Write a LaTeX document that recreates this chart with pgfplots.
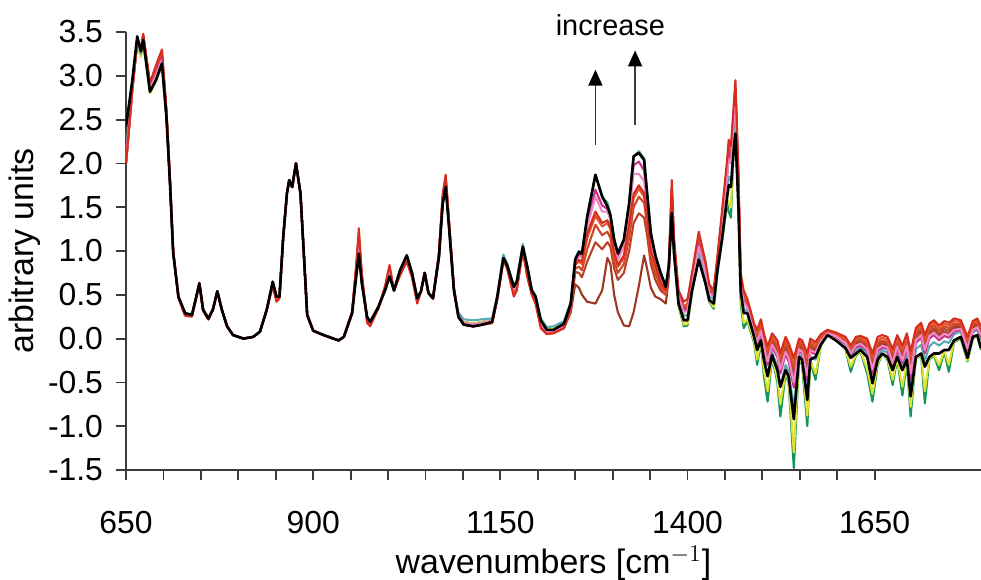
\documentclass[border=0pt]{standalone}
\usepackage{fontspec}
\setmainfont{Liberation Sans}
\usepackage{pgfplots}
\usepackage{pgfplotstable}
\pgfplotsset{compat=1.18}
\usetikzlibrary{arrows.meta}

\definecolor{axisgray}{RGB}{60,60,60}
\definecolor{cr}{RGB}{215,45,30}
\definecolor{co1}{RGB}{228,85,45}
\definecolor{co2}{RGB}{205,72,40}
\definecolor{co3}{RGB}{185,65,40}
\definecolor{cbr}{RGB}{160,55,35}
\definecolor{cpk}{RGB}{238,135,195}
\definecolor{cmg}{RGB}{200,50,140}
\definecolor{ccy}{RGB}{90,170,180}
\definecolor{cgr}{RGB}{20,150,90}
\definecolor{cye}{RGB}{225,225,50}

% x  black red orange1 orange2 orange3 brown pink magenta cyan green yellow
\pgfplotstableread{
x k r o1 o2 o3 br pk mg cy gr ye
650 2.42 2.00 2.00 2.00 2.00 2.00 2.04 2.04 2.08 2.10 2.10
658 2.92 2.80 2.80 2.80 2.80 2.80 2.82 2.82 2.85 2.86 2.86
665 3.45 3.40 3.40 3.40 3.40 3.40 3.42 3.42 3.38 3.35 3.35
670 3.28 3.32 3.30 3.30 3.30 3.30 3.28 3.28 3.25 3.22 3.22
673 3.41 3.48 3.46 3.46 3.45 3.45 3.44 3.44 3.42 3.40 3.40
682 2.82 2.92 2.90 2.90 2.88 2.88 2.86 2.88 2.82 2.80 2.80
690 2.95 3.12 3.08 3.06 3.04 3.02 3.00 3.02 2.96 2.94 2.94
698 3.14 3.30 3.27 3.25 3.22 3.20 3.18 3.22 3.15 3.12 3.12
704 2.53 2.62 2.60 2.58 2.56 2.56 2.56 2.58 2.54 2.53 2.53
709 1.73 1.78 1.76 1.76 1.75 1.75 1.75 1.76 1.73 1.73 1.73
713 0.98 1.00 1.00 1.00 1.00 1.00 0.99 0.99 0.98 0.98 0.98
720 0.48 0.47 0.47 0.47 0.47 0.47 0.48 0.48 0.48 0.48 0.48
729 0.29 0.26 0.27 0.27 0.27 0.27 0.28 0.28 0.29 0.27 0.27
738 0.27 0.25 0.26 0.26 0.26 0.26 0.27 0.27 0.28 0.26 0.26
742 0.41 0.40 0.40 0.40 0.40 0.40 0.41 0.41 0.41 0.41 0.41
748 0.63 0.64 0.63 0.63 0.63 0.63 0.63 0.63 0.63 0.63 0.63
753 0.33 0.32 0.32 0.32 0.32 0.32 0.33 0.33 0.33 0.33 0.33
760 0.23 0.22 0.22 0.22 0.22 0.22 0.23 0.23 0.23 0.23 0.23
766 0.33 0.33 0.33 0.33 0.33 0.33 0.33 0.33 0.33 0.33 0.33
772 0.54 0.54 0.54 0.54 0.54 0.54 0.54 0.54 0.54 0.54 0.54
778 0.33 0.33 0.33 0.33 0.33 0.33 0.33 0.33 0.33 0.33 0.33
785 0.14 0.14 0.14 0.14 0.14 0.14 0.14 0.14 0.14 0.14 0.14
793 0.04 0.04 0.04 0.04 0.04 0.04 0.04 0.04 0.04 0.04 0.04
807 0.00 0.00 0.00 0.00 0.00 0.00 0.00 0.00 0.00 0.00 0.00
820 0.02 0.02 0.02 0.02 0.02 0.02 0.02 0.02 0.02 0.02 0.02
829 0.08 0.08 0.08 0.08 0.08 0.08 0.08 0.08 0.08 0.08 0.08
838 0.33 0.33 0.33 0.33 0.33 0.33 0.33 0.33 0.33 0.33 0.33
846 0.65 0.60 0.62 0.62 0.62 0.62 0.63 0.63 0.65 0.65 0.65
851 0.48 0.42 0.44 0.44 0.44 0.44 0.46 0.46 0.48 0.48 0.48
855 0.48 0.46 0.47 0.47 0.47 0.47 0.47 0.47 0.48 0.48 0.48
860 1.16 1.16 1.16 1.16 1.16 1.16 1.16 1.16 1.16 1.16 1.16
865 1.66 1.66 1.66 1.66 1.66 1.66 1.66 1.66 1.66 1.66 1.66
868 1.81 1.81 1.81 1.81 1.81 1.81 1.81 1.81 1.81 1.81 1.81
872 1.73 1.73 1.73 1.73 1.73 1.73 1.73 1.73 1.73 1.73 1.73
877 2.00 2.00 2.00 2.00 2.00 2.00 2.00 2.00 2.00 2.00 2.00
883 1.66 1.66 1.66 1.66 1.66 1.66 1.66 1.66 1.66 1.66 1.66
887 1.05 1.05 1.05 1.05 1.05 1.05 1.05 1.05 1.05 1.05 1.05
892 0.27 0.27 0.27 0.27 0.27 0.27 0.27 0.27 0.27 0.27 0.27
900 0.09 0.09 0.09 0.09 0.09 0.09 0.09 0.09 0.09 0.09 0.09
914 0.04 0.04 0.04 0.04 0.04 0.04 0.04 0.04 0.04 0.04 0.04
927 0.00 0.00 0.00 0.00 0.00 0.00 0.00 0.00 0.00 0.00 0.00
934 -0.02 -0.02 -0.02 -0.02 -0.02 -0.02 -0.02 -0.02 -0.02 -0.02 -0.02
941 0.02 0.02 0.02 0.02 0.02 0.02 0.02 0.02 0.02 0.02 0.02
952 0.29 0.30 0.30 0.30 0.30 0.30 0.29 0.29 0.29 0.29 0.29
958 0.75 0.90 0.86 0.84 0.82 0.80 0.82 0.84 0.78 0.76 0.76
961 0.97 1.26 1.18 1.12 1.08 1.05 1.10 1.15 1.00 0.98 0.98
965 0.63 0.75 0.72 0.70 0.68 0.66 0.68 0.70 0.64 0.63 0.63
972 0.25 0.18 0.20 0.21 0.22 0.22 0.23 0.23 0.25 0.25 0.25
976 0.19 0.14 0.15 0.16 0.16 0.17 0.18 0.18 0.19 0.19 0.19
987 0.36 0.34 0.35 0.35 0.35 0.35 0.36 0.36 0.36 0.36 0.36
996 0.55 0.60 0.58 0.58 0.57 0.57 0.57 0.57 0.56 0.55 0.55
1002 0.71 0.84 0.80 0.78 0.77 0.76 0.78 0.78 0.72 0.71 0.71
1008 0.55 0.55 0.55 0.55 0.55 0.55 0.55 0.55 0.55 0.55 0.55
1016 0.78 0.72 0.74 0.75 0.75 0.76 0.76 0.76 0.78 0.78 0.78
1025 0.95 0.88 0.90 0.91 0.91 0.92 0.92 0.93 0.95 0.95 0.95
1032 0.75 0.70 0.71 0.72 0.72 0.73 0.73 0.73 0.75 0.75 0.75
1039 0.46 0.40 0.42 0.42 0.43 0.43 0.44 0.44 0.46 0.46 0.46
1044 0.54 0.54 0.54 0.54 0.54 0.54 0.54 0.54 0.54 0.54 0.54
1049 0.75 0.75 0.75 0.75 0.75 0.75 0.75 0.75 0.75 0.75 0.75
1054 0.52 0.52 0.52 0.52 0.52 0.52 0.52 0.52 0.52 0.52 0.52
1060 0.46 0.46 0.46 0.46 0.46 0.46 0.46 0.46 0.46 0.46 0.46
1068 0.93 0.98 0.96 0.96 0.95 0.95 0.95 0.95 0.93 0.93 0.93
1073 1.54 1.65 1.62 1.60 1.58 1.58 1.58 1.60 1.55 1.54 1.54
1077 1.73 1.87 1.84 1.82 1.80 1.79 1.80 1.82 1.76 1.73 1.73
1081 1.32 1.40 1.38 1.37 1.36 1.35 1.36 1.37 1.33 1.32 1.32
1088 0.55 0.58 0.57 0.57 0.56 0.56 0.56 0.56 0.56 0.55 0.55
1094 0.25 0.24 0.25 0.25 0.25 0.25 0.26 0.26 0.30 0.27 0.27
1101 0.16 0.16 0.16 0.16 0.16 0.16 0.18 0.18 0.22 0.19 0.19
1114 0.14 0.14 0.14 0.14 0.14 0.14 0.16 0.16 0.21 0.17 0.17
1126 0.16 0.16 0.16 0.16 0.16 0.16 0.18 0.18 0.22 0.19 0.19
1139 0.19 0.18 0.18 0.18 0.18 0.18 0.20 0.20 0.23 0.21 0.21
1146 0.48 0.46 0.46 0.46 0.46 0.46 0.48 0.48 0.50 0.49 0.49
1154 0.92 0.90 0.90 0.90 0.90 0.90 0.92 0.92 0.96 0.94 0.94
1159 0.84 0.80 0.81 0.81 0.82 0.82 0.83 0.83 0.86 0.85 0.85
1168 0.59 0.48 0.50 0.52 0.54 0.55 0.56 0.56 0.60 0.60 0.60
1172 0.65 0.55 0.57 0.59 0.60 0.61 0.62 0.62 0.66 0.66 0.66
1180 1.05 1.00 1.01 1.02 1.03 1.03 1.04 1.04 1.08 1.06 1.06
1186 0.82 0.70 0.72 0.74 0.76 0.77 0.78 0.78 0.83 0.82 0.82
1192 0.55 0.50 0.51 0.52 0.53 0.53 0.54 0.54 0.56 0.55 0.55
1197 0.48 0.40 0.42 0.43 0.44 0.45 0.46 0.46 0.49 0.48 0.48
1204 0.21 0.12 0.14 0.15 0.16 0.17 0.18 0.18 0.23 0.21 0.21
1212 0.10 0.05 0.06 0.07 0.07 0.08 0.08 0.08 0.13 0.11 0.11
1221 0.10 0.06 0.07 0.07 0.08 0.08 0.09 0.09 0.14 0.11 0.11
1235 0.17 0.12 0.14 0.13 0.12 0.12 0.15 0.15 0.20 0.18 0.18
1244 0.40 0.35 0.36 0.34 0.32 0.30 0.38 0.38 0.42 0.40 0.40
1250 0.90 0.85 0.84 0.80 0.76 0.62 0.87 0.88 0.92 0.90 0.90
1255 0.99 0.90 0.88 0.82 0.75 0.58 0.94 0.96 1.00 0.99 0.99
1259 0.97 0.88 0.85 0.78 0.70 0.50 0.93 0.95 0.98 0.97 0.97
1266 1.39 1.20 1.15 1.02 0.88 0.42 1.28 1.32 1.39 1.39 1.39
1277 1.87 1.45 1.40 1.30 1.10 0.40 1.62 1.70 1.87 1.87 1.87
1286 1.62 1.32 1.28 1.18 1.02 0.55 1.45 1.52 1.63 1.62 1.62
1293 1.51 1.35 1.32 1.22 1.10 0.92 1.45 1.48 1.53 1.55 1.53
1297 1.41 1.28 1.25 1.15 1.05 0.85 1.36 1.38 1.42 1.41 1.41
1302 1.13 0.98 0.95 0.88 0.80 0.50 1.05 1.08 1.14 1.13 1.13
1307 0.97 0.84 0.82 0.75 0.67 0.30 0.90 0.92 0.98 0.97 0.97
1315 1.13 0.95 0.92 0.85 0.75 0.15 1.05 1.08 1.13 1.13 1.13
1322 1.54 1.30 1.25 1.15 1.00 0.14 1.42 1.48 1.54 1.54 1.54
1328 2.08 1.65 1.60 1.50 1.32 0.30 1.88 1.98 2.08 2.08 2.08
1335 2.12 1.75 1.71 1.62 1.43 0.60 1.88 2.02 2.14 2.13 2.13
1342 2.04 1.66 1.62 1.55 1.38 0.95 1.80 1.92 2.06 2.05 2.05
1346 1.66 1.40 1.36 1.30 1.18 0.80 1.50 1.58 1.68 1.66 1.66
1351 1.20 1.00 0.97 0.92 0.85 0.58 1.10 1.14 1.22 1.20 1.20
1357 0.95 0.85 0.82 0.75 0.67 0.48 0.90 0.92 0.96 0.95 0.95
1364 0.75 0.64 0.62 0.58 0.55 0.45 0.70 0.72 0.76 0.75 0.75
1371 0.59 0.55 0.52 0.50 0.50 0.40 0.55 0.56 0.60 0.59 0.59
1375 0.82 0.85 0.82 0.80 0.78 0.70 0.80 0.81 0.83 0.82 0.82
1379 1.43 1.81 1.72 1.65 1.60 1.55 1.62 1.68 1.50 1.45 1.45
1382 0.97 1.15 1.10 1.08 1.06 1.05 1.05 1.07 1.00 0.97 0.97
1388 0.40 0.55 0.52 0.50 0.49 0.48 0.48 0.49 0.42 0.38 0.39
1395 0.21 0.42 0.37 0.35 0.34 0.33 0.30 0.32 0.26 0.14 0.16
1400 0.21 0.45 0.40 0.38 0.37 0.36 0.32 0.34 0.27 0.15 0.17
1406 0.55 0.75 0.71 0.69 0.68 0.67 0.64 0.66 0.58 0.52 0.53
1415 0.90 1.22 1.15 1.12 1.10 1.08 1.05 1.08 0.98 0.92 0.92
1424 0.63 0.88 0.83 0.81 0.80 0.79 0.76 0.78 0.68 0.62 0.62
1429 0.44 0.62 0.59 0.57 0.56 0.55 0.52 0.54 0.48 0.42 0.43
1435 0.40 0.55 0.53 0.52 0.51 0.50 0.48 0.49 0.45 0.34 0.36
1440 0.78 0.95 0.91 0.89 0.88 0.87 0.85 0.86 0.80 0.76 0.77
1446 1.13 1.45 1.39 1.36 1.34 1.32 1.30 1.32 1.20 1.10 1.12
1453 1.62 2.05 1.97 1.94 1.92 1.90 1.85 1.88 1.70 1.55 1.58
1455 1.75 2.27 2.21 2.18 2.16 2.14 2.05 2.10 1.85 1.45 1.55
1458 1.73 2.20 2.15 2.12 2.10 2.08 2.00 2.04 1.80 1.38 1.50
1462 2.19 2.70 2.61 2.58 2.56 2.54 2.50 2.55 2.35 2.25 2.26
1464 2.34 2.95 2.88 2.85 2.82 2.80 2.65 2.70 2.45 2.38 2.40
1468 1.50 1.90 1.82 1.79 1.77 1.75 1.70 1.73 1.58 1.50 1.52
1471 0.55 0.75 0.70 0.68 0.67 0.66 0.62 0.64 0.55 0.40 0.45
1475 0.29 0.55 0.49 0.47 0.46 0.45 0.42 0.44 0.35 0.12 0.18
1480 0.29 0.45 0.41 0.39 0.38 0.37 0.35 0.36 0.30 0.20 0.22
1489 0.02 0.17 0.14 0.11 0.09 0.07 0.06 0.05 0.03 -0.05 -0.03
1493 -0.13 0.10 0.06 0.03 0.01 -0.02 -0.04 -0.06 -0.12 -0.30 -0.24
1498 -0.02 0.22 0.18 0.15 0.13 0.11 0.09 0.07 0.02 -0.04 -0.03
1502 -0.24 0.06 0.02 -0.01 -0.04 -0.07 -0.09 -0.12 -0.22 -0.43 -0.36
1507 -0.43 -0.09 -0.13 -0.16 -0.20 -0.23 -0.26 -0.30 -0.42 -0.72 -0.60
1513 -0.19 0.06 0.02 0.00 -0.03 -0.05 -0.07 -0.10 -0.16 -0.22 -0.21
1520 -0.36 -0.02 -0.06 -0.09 -0.12 -0.15 -0.18 -0.21 -0.32 -0.50 -0.45
1524 -0.55 -0.17 -0.21 -0.25 -0.29 -0.32 -0.35 -0.40 -0.55 -0.89 -0.75
1531 -0.36 0.02 -0.02 -0.05 -0.08 -0.11 -0.15 -0.18 -0.30 -0.40 -0.38
1535 -0.43 -0.05 -0.09 -0.12 -0.15 -0.18 -0.22 -0.26 -0.38 -0.50 -0.47
1542 -0.92 -0.22 -0.28 -0.33 -0.38 -0.43 -0.50 -0.56 -0.78 -1.48 -1.30
1549 -0.21 0.00 -0.03 -0.05 -0.08 -0.10 -0.12 -0.14 -0.18 -0.24 -0.23
1553 -0.24 -0.02 -0.05 -0.08 -0.10 -0.12 -0.15 -0.17 -0.22 -0.30 -0.28
1560 -0.70 -0.17 -0.22 -0.27 -0.31 -0.36 -0.42 -0.48 -0.62 -1.00 -0.88
1564 -0.24 0.00 -0.03 -0.06 -0.09 -0.11 -0.13 -0.15 -0.20 -0.26 -0.25
1571 -0.21 -0.04 -0.07 -0.10 -0.12 -0.14 -0.16 -0.18 -0.24 -0.47 -0.40
1578 -0.07 0.05 0.03 0.01 0.00 -0.02 -0.03 -0.04 -0.05 -0.08 -0.08
1587 0.04 0.10 0.09 0.08 0.07 0.06 0.06 0.06 0.07 0.05 0.05
1598 -0.02 0.07 0.06 0.05 0.04 0.03 0.03 0.02 0.03 0.00 0.00
1611 -0.11 0.02 0.00 -0.02 -0.03 -0.04 -0.05 -0.06 -0.07 -0.12 -0.12
1618 -0.22 -0.08 -0.11 -0.13 -0.15 -0.16 -0.17 -0.18 -0.20 -0.38 -0.32
1625 -0.17 0.02 0.00 -0.02 -0.04 -0.06 -0.08 -0.10 -0.13 -0.19 -0.18
1631 -0.13 0.03 0.01 -0.01 -0.03 -0.05 -0.06 -0.08 -0.10 -0.15 -0.14
1640 -0.21 0.00 -0.03 -0.06 -0.08 -0.10 -0.12 -0.14 -0.18 -0.40 -0.35
1647 -0.51 -0.17 -0.21 -0.25 -0.29 -0.32 -0.35 -0.40 -0.50 -0.72 -0.63
1654 -0.24 0.02 -0.02 -0.05 -0.08 -0.10 -0.12 -0.15 -0.20 -0.30 -0.28
1660 -0.17 0.04 0.01 -0.02 -0.04 -0.06 -0.08 -0.10 -0.13 -0.18 -0.18
1667 -0.21 0.02 -0.01 -0.04 -0.06 -0.08 -0.10 -0.12 -0.16 -0.24 -0.23
1674 -0.36 -0.12 -0.16 -0.19 -0.22 -0.25 -0.28 -0.31 -0.36 -0.53 -0.47
1680 -0.21 0.04 0.01 -0.02 -0.05 -0.07 -0.09 -0.12 -0.16 -0.23 -0.22
1687 -0.36 -0.08 -0.12 -0.16 -0.19 -0.22 -0.25 -0.28 -0.34 -0.65 -0.55
1693 -0.24 0.06 0.03 0.00 -0.03 -0.06 -0.08 -0.11 -0.18 -0.27 -0.26
1698 -0.66 -0.15 -0.20 -0.25 -0.30 -0.35 -0.40 -0.46 -0.60 -0.89 -0.78
1705 -0.21 0.12 0.09 0.06 0.03 0.00 -0.02 -0.05 -0.12 -0.22 -0.22
1712 -0.17 0.18 0.15 0.12 0.09 0.06 0.04 0.01 -0.07 -0.20 -0.19
1717 -0.32 0.04 0.00 -0.04 -0.07 -0.10 -0.13 -0.17 -0.25 -0.74 -0.60
1723 -0.21 0.17 0.14 0.11 0.08 0.05 0.03 0.00 -0.09 -0.24 -0.23
1729 -0.17 0.21 0.18 0.15 0.12 0.09 0.07 0.04 -0.04 -0.19 -0.18
1736 -0.17 0.15 0.12 0.09 0.06 0.03 0.01 -0.02 -0.08 -0.36 -0.30
1743 -0.13 0.20 0.17 0.14 0.11 0.08 0.06 0.03 -0.03 -0.15 -0.14
1749 -0.13 0.18 0.15 0.12 0.09 0.06 0.04 0.01 -0.05 -0.38 -0.30
1756 -0.02 0.23 0.20 0.17 0.14 0.12 0.10 0.08 0.05 -0.04 -0.03
1765 0.02 0.21 0.19 0.17 0.15 0.13 0.11 0.10 0.08 0.00 0.01
1774 -0.22 0.02 -0.01 -0.04 -0.06 -0.09 -0.11 -0.13 -0.18 -0.26 -0.25
1781 0.02 0.20 0.18 0.16 0.14 0.12 0.10 0.09 0.07 0.00 0.01
1787 0.04 0.23 0.21 0.19 0.17 0.15 0.13 0.12 0.10 0.03 0.03
1792 -0.11 0.14 0.12 0.10 0.08 0.06 0.04 0.02 -0.02 -0.13 -0.12
}\spectra

\begin{document}
\begin{tikzpicture}
\begin{axis}[
  at={(0,0)}, anchor=south west,
  scale only axis, width=427.5bp, height=219bp,
  xmin=650, xmax=1792, ymin=-1.5, ymax=3.5,
  axis lines*=left,
  axis line style={draw=axisgray, line width=1bp},
  every tick/.style={draw=axisgray, line width=0.9bp},
  tick align=outside,
  major tick length=5bp, minor tick length=5bp,
  xtick={650,900,1150,1400,1650},
  minor x tick num=4,
  ytick={-1.5,-1,...,3.5},
  xticklabel shift=12bp,
  yticklabel shift=3bp,
  ticklabel style={font=\fontsize{16}{19}\selectfont},
  /pgf/number format/assume math mode=true,
  /pgf/number format/1000 sep={},
  yticklabel style={/pgf/number format/.cd, fixed, fixed zerofill, precision=1},
  xlabel={wavenumbers [cm$^{-1}$]},
  ylabel={arbitrary units},
  xlabel style={font=\fontsize{17}{20}\selectfont, at={(axis description cs:0.5,-0.213)}, anchor=center},
  ylabel style={font=\fontsize{17}{20}\selectfont, at={(axis description cs:-0.119,0.5)}, anchor=center, rotate=0},
  no markers,
  every axis plot/.append style={line width=1.05bp, line join=round},
  clip mode=individual,
]
\addplot[cgr] table[x=x,y=gr]{\spectra};
\addplot[cye] table[x=x,y=ye]{\spectra};
\addplot[ccy] table[x=x,y=cy]{\spectra};
\addplot[cbr] table[x=x,y=br]{\spectra};
\addplot[co3] table[x=x,y=o3]{\spectra};
\addplot[co2] table[x=x,y=o2]{\spectra};
\addplot[co1] table[x=x,y=o1]{\spectra};
\addplot[cmg] table[x=x,y=mg]{\spectra};
\addplot[cpk] table[x=x,y=pk]{\spectra};
\addplot[cr] table[x=x,y=r]{\spectra};
\addplot[black, line width=1.3bp] table[x=x,y=k]{\spectra};

\draw[axisgray, line width=0.8bp, -{Triangle[width=7bp,length=8bp,color=black]}]
  (axis cs:1277,2.21) -- (axis cs:1277,3.07);
\draw[axisgray, line width=0.8bp, -{Triangle[width=7bp,length=8bp,color=black]}]
  (axis cs:1330,2.44) -- (axis cs:1330,3.29);
\node[font=\fontsize{14.5}{17}\selectfont] at (axis cs:1297,3.58) {increase};
\end{axis}
\pgfresetboundingbox
\path[use as bounding box] (-63bp,-55bp) rectangle (427.5bp,235bp);
\end{tikzpicture}
\end{document}
